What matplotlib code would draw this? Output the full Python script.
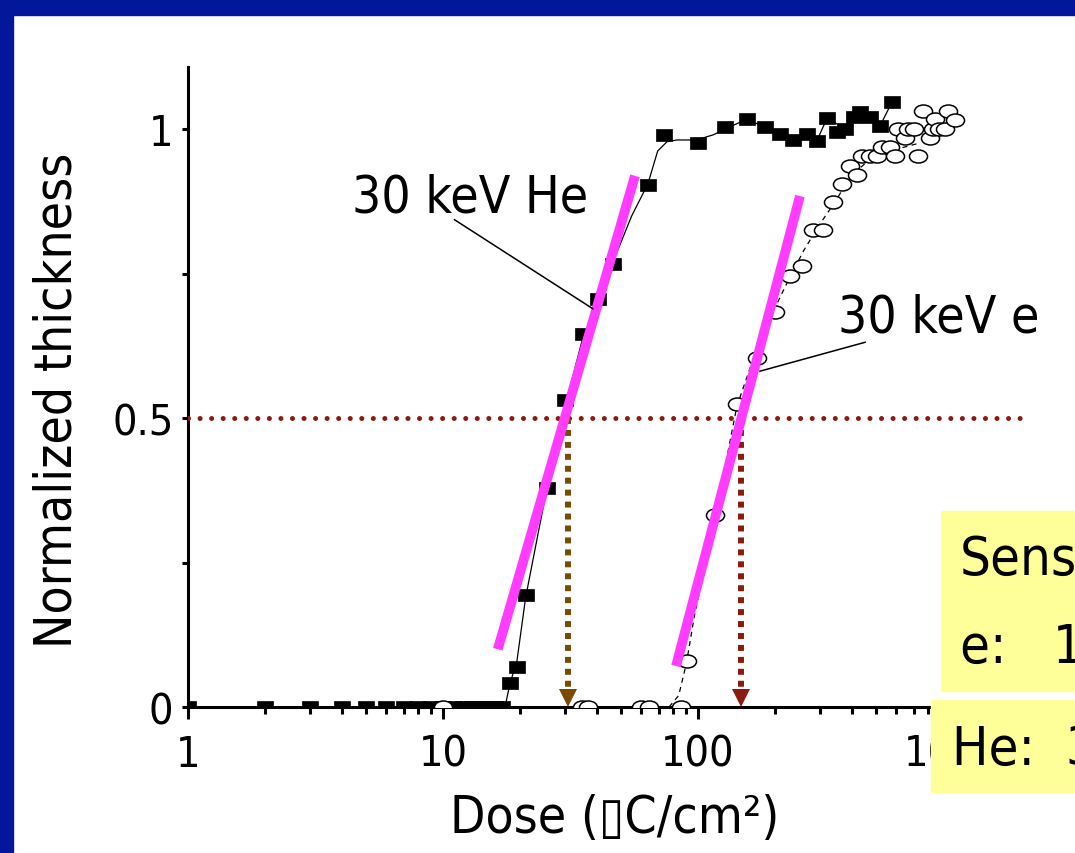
import matplotlib
matplotlib.use("Agg")
import matplotlib.pyplot as plt
import matplotlib.transforms as mtransforms
from matplotlib.path import Path
from matplotlib.patches import Rectangle
from matplotlib.ticker import FixedLocator, LogLocator, NullFormatter

plt.rcParams['font.family'] = ['DejaVu Sans']
plt.rcParams['font.stretch'] = 'condensed'

# 30 keV He (filled squares)
he_x = [1, 2, 3, 4, 5, 6, 7, 8, 9, 10, 11, 12, 13, 14, 15, 16, 17,
        18.3, 19.5, 21.1, 25.6, 30.1, 35.4, 40.5, 46.4, 63.6, 73.6, 100,
        127.6, 155.6, 183, 210, 236, 267, 292, 321, 350, 377, 410, 432,
        472, 517, 577]
he_y = [0] * 17 + [0.042, 0.069, 0.194, 0.379, 0.531, 0.645, 0.706, 0.766,
                   0.903, 0.99, 0.976, 1.003, 1.017, 1.003, 0.991, 0.981,
                   0.991, 0.979, 1.019, 0.995, 1.0, 1.02, 1.029, 1.021,
                   1.005, 1.047]

# 30 keV e (open circles)
e_x = [10, 35, 37, 60, 64, 86, 90.6, 116.6, 142, 170, 200, 230, 256, 283,
       309, 338, 367, 395, 421, 440, 473, 502, 526, 566, 592, 609, 646, 666,
       700, 729, 762, 813, 836, 849, 880, 930, 955, 1018]
e_y = [0, 0, 0, 0, 0, 0, 0.08, 0.332, 0.524, 0.603, 0.683, 0.746, 0.763,
       0.825, 0.825, 0.873, 0.905, 0.936, 0.92, 0.953, 0.953, 0.953, 0.969,
       0.969, 0.953, 1.0, 0.984, 1.0, 1.0, 0.953, 1.031, 0.984, 1.0, 1.017,
       1.0, 1.0, 1.031, 1.016]

# guide curves
he_fit_x = [17.5, 18.3, 19.5, 21.1, 25.6, 30.1, 35.4, 40.5, 46.4, 55, 63.6,
            69.5, 75.6, 82.6, 93, 100, 115, 127.6, 155.6, 183, 210, 236, 267,
            292, 321, 377, 432, 472, 517, 577]
he_fit_y = [0, 0.04, 0.08, 0.19, 0.38, 0.52, 0.64, 0.70, 0.77, 0.85, 0.905,
            0.962, 0.978, 0.981, 0.981, 0.982, 0.99, 1.0, 1.017, 1.003, 0.991,
            0.981, 0.991, 0.979, 1.019, 1.0, 1.029, 1.021, 1.005, 1.047]
e_fit_x = [77, 84, 90, 97, 117, 142, 170, 200, 230, 260, 300, 340, 400, 480,
           600, 730]
e_fit_y = [0, 0.02, 0.075, 0.16, 0.33, 0.52, 0.62, 0.69, 0.745, 0.79, 0.835,
           0.87, 0.92, 0.95, 0.965, 0.975]

# magenta slope lines
mag_he_x = [16.4, 56.6]
mag_he_y = [0.10, 0.919]
mag_e_x = [82, 251]
mag_e_y = [0.071, 0.884]

half_x = [1, 2005]
he_sens = 31
e_sens = 147

xticks = [1, 10, 100, 1000]
xticklabels = ['1', '10', '100', '1000']
yticks = [0, 0.5, 1]
yticklabels = ['0', '0.5', '1']

fig = plt.figure(figsize=(10.75, 8.54), dpi=100)
W, H = 1075, 854
ax = fig.add_axes([188 / W, (H - 708) / H, 1 - 188 / W, 640 / H])

sq = Path([(-1, -0.76), (1, -0.76), (1, 0.76), (-1, 0.76), (-1, -0.76)],
          [Path.MOVETO, Path.LINETO, Path.LINETO, Path.LINETO, Path.CLOSEPOLY])
ell = Path.unit_circle().transformed(mtransforms.Affine2D().scale(1, 0.72))

ax.plot(he_fit_x, he_fit_y, color='black', lw=0.9, zorder=2)
ax.plot(e_fit_x, e_fit_y, color='black', lw=0.9, ls=(0, (4, 3.5)), zorder=2)
ax.plot(he_x, he_y, ls='none', marker=sq, ms=12.2, mfc='black', mec='black',
        mew=0.5, zorder=3)
ax.plot(e_x, e_y, ls='none', marker=ell, ms=13, mfc='white', mec='black',
        mew=1.1, zorder=3)

ax.plot(half_x, [0.5, 0.5], color='#8c1a0f', lw=3.6, ls=(0, (0.01, 2.3)),
        dash_capstyle='round', zorder=4)

head = mtransforms.offset_copy(ax.transData, fig=fig, y=6.5, units='points')
for xs, col in [(he_sens, '#7a4a00'), (e_sens, '#8c1a0f')]:
    ax.plot([xs, xs], [0.5, 0.03], color=col, lw=4.3, ls=(0, (1, 1)),
            dash_capstyle='butt', zorder=4)
    ax.plot([xs], [0], marker='v', ms=13, color=col, mew=0, transform=head,
            clip_on=False, zorder=4)

ax.plot(mag_he_x, mag_he_y, color='#ff3cff', lw=7, solid_capstyle='butt', zorder=5)
ax.plot(mag_e_x, mag_e_y, color='#ff3cff', lw=7, solid_capstyle='butt', zorder=5)

# labels with leader lines
ax.plot([11.1, 38.7], [0.843, 0.689], color='black', lw=1.1, zorder=6)
ax.plot([452, 175], [0.631, 0.581], color='black', lw=1.1, zorder=6)
ax.text(4.40, 0.858, '30 keV He', fontsize=37, va='baseline', ha='left', zorder=7)
ax.text(354, 0.649, '30 keV e', fontsize=37, va='baseline', ha='left', zorder=7)

ax.set_xscale('log')
ax.set_xlim(1, 10 ** ((W - 188) / 255))
ax.set_ylim(0, 640 / 578)
ax.set_xticks(xticks)
ax.set_xticklabels(xticklabels)
ax.xaxis.set_minor_locator(LogLocator(base=10, subs=range(2, 10)))
ax.xaxis.set_minor_formatter(NullFormatter())
ax.set_yticks(yticks)
ax.set_yticklabels(yticklabels)
ax.yaxis.set_minor_locator(FixedLocator([0.25, 0.75]))

for side in ['top', 'right']:
    ax.spines[side].set_visible(False)
for side in ['left', 'bottom']:
    ax.spines[side].set_linewidth(2.2)
ax.tick_params(axis='x', which='major', length=8.6, width=2.2, labelsize=31, pad=10)
ax.tick_params(axis='x', which='minor', length=5, width=2.2)
ax.tick_params(axis='y', which='both', length=4.5, width=2.2, labelsize=31, pad=6)

ax.set_xlabel('Dose (\u25afC/cm\u00b2)', fontsize=37, va='baseline')
ax.xaxis.set_label_coords((615 - 188) / 887, (708 - 833) / 640)
ax.set_ylabel('Normalized thickness', fontsize=37, va='center')
ax.yaxis.set_label_coords((58 - 188) / 887, 0.48)

# slide frame
blue = '#02179a'
fig.add_artist(Rectangle((0, 0), 13 / W, 1, transform=fig.transFigure,
                         color=blue, zorder=10))
fig.add_artist(Rectangle((0, 1 - 16 / H), 1, 16 / H, transform=fig.transFigure,
                         color=blue, zorder=10))

# sensitivity boxes (cut off by the slide edge, as in the original)
yel = '#ffff99'
fig.add_artist(Rectangle((941 / W, 1 - 692 / H), 0.2, 180 / H,
                         transform=fig.transFigure, color=yel, zorder=8))
fig.add_artist(Rectangle((931 / W, 1 - 793 / H), 0.2, 92 / H,
                         transform=fig.transFigure, color=yel, zorder=8))
fig.text(960 / W, 1 - 575 / H, 'Sensitivity', fontsize=39, va='baseline', zorder=9)
fig.text(960 / W, 1 - 663 / H, 'e:   140 \u00b5C/cm\u00b2', fontsize=39,
         va='baseline', zorder=9)
fig.text(952 / W, 1 - 765 / H, 'He:  30 \u00b5C/cm\u00b2', fontsize=39,
         va='baseline', zorder=9)

fig.savefig('out.png', dpi=100)
